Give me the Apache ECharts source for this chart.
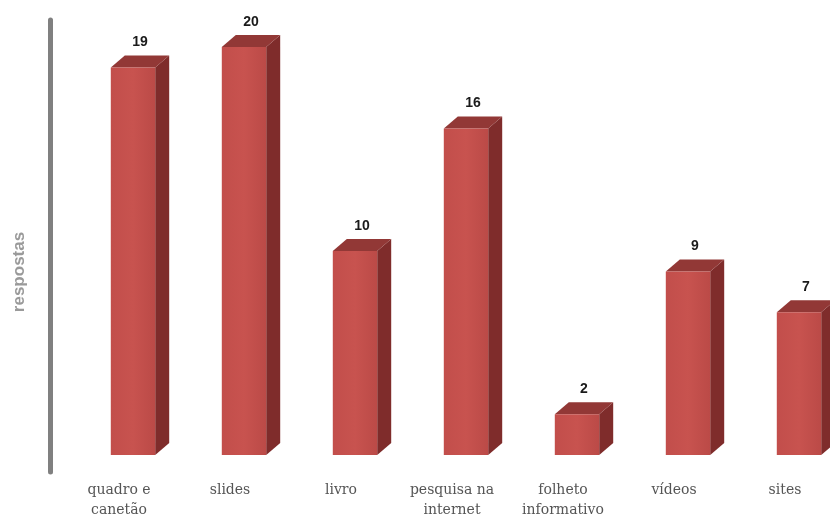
<!DOCTYPE html>
<html>
<head>
<meta charset="utf-8">
<script src="https://cdn.jsdelivr.net/npm/echarts@6/dist/echarts.min.js"></script>
<style>html,body{margin:0;padding:0;background:#fff;}#c{width:830px;height:518px;}</style>
</head>
<body>
<div id="c"></div>
<script>
const categories = ['quadro e\ncanetão', 'slides', 'livro', 'pesquisa na\ninternet', 'folheto\ninformativo', 'vídeos', 'sites'];
const values = [19, 20, 10, 16, 2, 9, 7];
const axisName = 'respostas';

const chart = echarts.init(document.getElementById('c'), null, {renderer: 'canvas'});
const DX = 14, DY = 12;

function renderBar(params, api) {
  const i = api.value(0), v = api.value(1);
  const topPt = api.coord([i, v]);
  const basePt = api.coord([i, 0]);
  const w = api.size([1, 0])[0] * 0.4;
  const l = topPt[0] - w / 2, r = topPt[0] + w / 2, t = topPt[1], b = basePt[1];
  return {
    type: 'group',
    children: [
      {type: 'polygon', shape: {points: [[r, t], [r + DX, t - DY], [r + DX, b - DY], [r, b]]},
        style: {fill: '#7f2c2b'}},
      {type: 'polygon', shape: {points: [[l, t], [l + DX, t - DY], [r + DX, t - DY], [r, t]]},
        style: {fill: '#923836'}},
      {type: 'polygon', shape: {points: [[l, t], [r, t], [r, b], [l, b]]},
        style: {fill: new echarts.graphic.LinearGradient(0, 0, 1, 0, [
          {offset: 0, color: '#c24e4b'}, {offset: 0.5, color: '#c8534f'}, {offset: 1, color: '#bb4a47'}])}},
      {type: 'text', x: topPt[0] + DX / 2, y: t - DY - 13,
        style: {text: String(v), fill: '#1a1a1a', font: 'bold 14px "Liberation Sans", Arial, sans-serif',
          align: 'center', verticalAlign: 'middle'}}
    ]
  };
}

chart.setOption({
  animation: false,
  backgroundColor: '#fff',
  grid: [
    {left: 77.5, top: 47, width: 777, height: 408, outerBoundsMode: 'none', containLabel: false},
    {left: 50, top: 20, width: 10, height: 452, outerBoundsMode: 'none', containLabel: false}
  ],
  xAxis: [
    {type: 'category', gridIndex: 0, data: categories,
      axisLine: {show: false}, axisTick: {show: false},
      axisLabel: {interval: 0, margin: 25, color: '#555', fontSize: 14, lineHeight: 20,
        fontFamily: '"DejaVu Serif", serif', padding: [0, 28, 0, 0]}},
    {type: 'value', gridIndex: 1, show: false}
  ],
  yAxis: [
    {type: 'value', gridIndex: 0, min: 0, max: 20, show: false},
    {type: 'value', gridIndex: 1, min: 0, max: 1,
      name: axisName, nameLocation: 'middle', nameRotate: 90, nameGap: 22,
      nameTextStyle: {color: '#9a9a9a', fontSize: 17, fontWeight: 'bold', fontFamily: '"Liberation Sans", Arial, sans-serif',
        padding: [0, 52, 0, 0]},
      axisLine: {show: true, lineStyle: {color: '#808080', width: 5, cap: 'round'}},
      axisTick: {show: false}, axisLabel: {show: false}, splitLine: {show: false}}
  ],
  series: [{
    type: 'custom',
    xAxisIndex: 0, yAxisIndex: 0,
    renderItem: renderBar,
    clip: false,
    data: values.map((v, i) => [i, v])
  }]
});
</script>
</body>
</html>
